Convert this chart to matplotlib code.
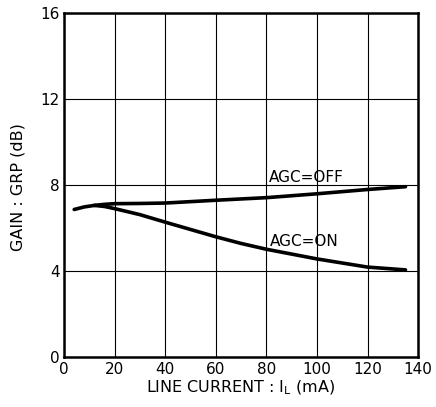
import matplotlib.pyplot as plt

# AGC = OFF curve (line current mA, gain dB)
off_current = [4, 8, 12, 16, 20, 30, 40, 60, 80, 100, 120, 135]
off_gain = [6.86, 6.98, 7.05, 7.1, 7.13, 7.14, 7.16, 7.29, 7.41, 7.59, 7.79, 7.92]

# AGC = ON curve
on_current = [12, 16, 20, 30, 40, 50, 60, 70, 80, 100, 120, 135]
on_gain = [7.05, 7.0, 6.9, 6.62, 6.27, 5.93, 5.59, 5.28, 5.01, 4.56, 4.18, 4.05]

x_ticks = [0, 20, 40, 60, 80, 100, 120, 140]
y_ticks = [0, 4, 8, 12, 16]

plt.rcParams['font.family'] = ['DejaVu Sans']

fig = plt.figure(figsize=(4.36, 4.07), dpi=100)
ax = fig.add_axes([0.147, 0.123, 0.812, 0.845])

ax.plot(off_current, off_gain, color="black", lw=2.6, solid_capstyle="round")
ax.plot(on_current, on_gain, color="black", lw=2.6, solid_capstyle="round")

ax.text(81, 8.14, "AGC=OFF", fontsize=11, ha="left", va="baseline")
ax.text(81.5, 5.18, "AGC=ON", fontsize=11, ha="left", va="baseline")

ax.set_xlim(0, 140)
ax.set_ylim(0, 16)
ax.set_xticks(x_ticks)
ax.set_yticks(y_ticks)
ax.tick_params(axis="x", length=0, labelsize=11, pad=4)
ax.tick_params(axis="y", length=0, labelsize=11, pad=3)
ax.grid(True, color="black", lw=0.8)
for s in ax.spines.values():
    s.set_linewidth(1.8)

ax.set_xlabel("LINE CURRENT : I$_\\mathregular{L}$ (mA)", fontsize=11.5, labelpad=1)
ax.set_ylabel("GAIN : GRP (dB)", fontsize=11.5)
ax.yaxis.set_label_coords(-0.11, 0.493)

fig.savefig("out.png", dpi=100)
